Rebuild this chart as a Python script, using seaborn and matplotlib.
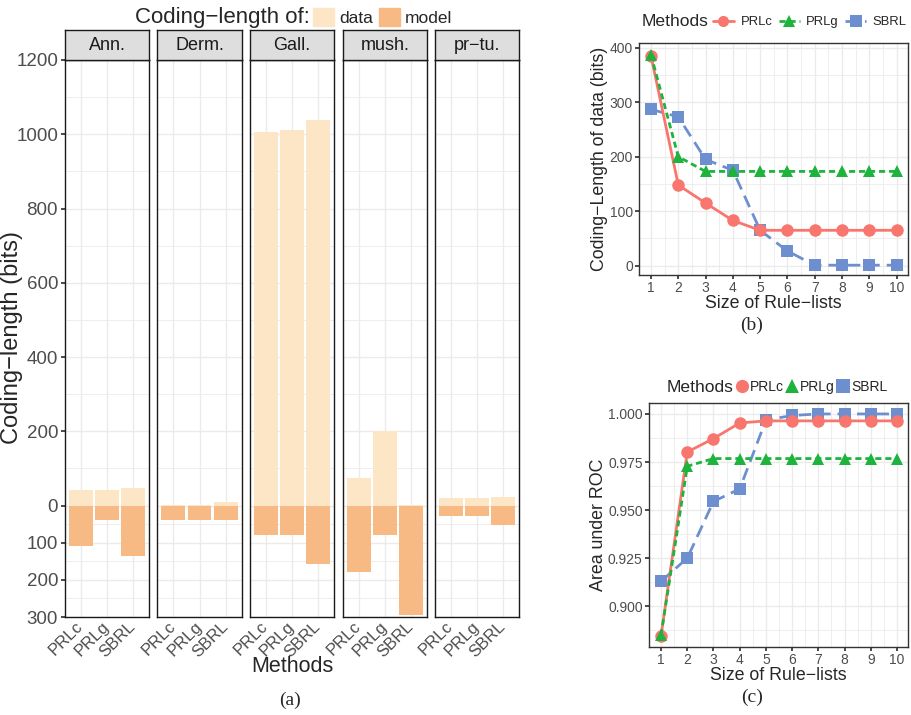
import pandas as pd
import matplotlib.pyplot as plt
import seaborn as sns
from matplotlib.patches import Patch
from matplotlib.lines import Line2D
from matplotlib.ticker import FixedLocator, FuncFormatter

# Data for panel (a): coding length of data (up) and model (down)
datasets = ['Ann.', 'Derm.', 'Gall.', 'mush.', 'pr−tu.']
methods = ['PRLc', 'PRLg', 'SBRL']
data_len = [[42, 42, 48], [2, 2, 10], [1006, 1012, 1038], [75, 200, 2], [21, 21, 23]]
model_len = [[110, 40, 135], [38, 38, 38], [79, 79, 156], [179, 79, 295], [27, 27, 51]]

# Data for panels (b) and (c)
sizes = [1, 2, 3, 4, 5, 6, 7, 8, 9, 10]
cl_prlc = [385, 148, 115, 83, 65, 65, 65, 65, 65, 65]
cl_prlg = [387, 200, 173, 173, 173, 173, 173, 173, 173, 173]
cl_sbrl = [287, 273, 195, 175, 65, 27, 1, 1, 1, 1]
auc_prlc = [0.8847, 0.9802, 0.9872, 0.9953, 0.9964, 0.9964, 0.9964, 0.9964, 0.9964, 0.9964]
auc_prlg = [0.8850, 0.9728, 0.9768, 0.9768, 0.9768, 0.9768, 0.9768, 0.9768, 0.9768, 0.9768]
auc_sbrl = [0.9130, 0.9250, 0.9545, 0.9610, 0.9968, 0.9992, 1.0000, 1.0000, 1.0000, 1.0000]

col_data = '#FDE6C6'
col_model = '#F8BA84'
palette = {'PRLc': '#F8766D', 'PRLg': '#1DB33C', 'SBRL': '#6E8FCF'}
markers = {'PRLc': 'o', 'PRLg': '^', 'SBRL': 's'}
dashes = {'PRLc': '', 'PRLg': (2.2, 1.4), 'SBRL': (4.5, 2.5)}

sns.set_theme(style='white')
plt.rcParams['font.family'] = ['Liberation Sans', 'DejaVu Sans']
plt.rcParams['axes.unicode_minus'] = True

W, H = 912, 715
fig = plt.figure(figsize=(W / 100, H / 100), dpi=100)


def box(x0, y0, x1, y1):
    return [x0 / W, 1 - y1 / H, (x1 - x0) / W, (y1 - y0) / H]


TICK = '#4D4D4D'
GRID = '#EBEBEB'


def style_grid(ax):
    ax.set_axisbelow(True)
    ax.grid(True, which='major', color=GRID, lw=1.0)
    ax.grid(True, which='minor', color=GRID, lw=0.6)
    for s in ax.spines.values():
        s.set_color('#333333')
        s.set_linewidth(1.0)


# ---------------- panel (a) ----------------
rows = []
for d, dl, ml in zip(datasets, data_len, model_len):
    for m, a, b in zip(methods, dl, ml):
        rows.append({'Dataset': d, 'Method': m, 'data': a, 'model': -b})
df = pd.DataFrame(rows)

facet_x = [(65, 149), (157, 242), (250, 334), (343, 427), (435, 519)]
yt = [-300, -200, -100, 0, 200, 400, 600, 800, 1000, 1200]
ym = [-250, -150, -50, 100, 300, 500, 700, 900, 1100]
for i, (d, (x0, x1)) in enumerate(zip(datasets, facet_x)):
    ax = fig.add_axes(box(x0, 60, x1, 617))
    sub = df[df['Dataset'] == d]
    sns.barplot(data=sub, x='Method', y='data', order=methods, color=col_data,
                saturation=1, width=0.9, linewidth=0, ax=ax)
    sns.barplot(data=sub, x='Method', y='model', order=methods, color=col_model,
                saturation=1, width=0.9, linewidth=0, ax=ax)
    ax.set_xlim(-0.6, 2.6)
    ax.set_ylim(-300, 1200)
    ax.yaxis.set_major_locator(FixedLocator(yt))
    ax.yaxis.set_minor_locator(FixedLocator(ym))
    style_grid(ax)
    ax.spines[:].set_color('#1a1a1a')
    ax.grid(False, axis='x', which='minor')
    ax.set_xlabel('')
    ax.set_ylabel('')
    ax.tick_params(axis='x', which='major', length=3, color='#333333', labelsize=12,
                   labelcolor=TICK, pad=2)
    for lab in ax.get_xticklabels():
        lab.set_rotation(45)
        lab.set_ha('right')
        lab.set_va('center')
        lab.set_rotation_mode('anchor')
    if i == 0:
        ax.yaxis.set_major_formatter(FuncFormatter(lambda v, p: f'{abs(int(v))}'))
        ax.tick_params(axis='y', which='major', left=True, length=3, color='#333333',
                       labelsize=13.5, labelcolor=TICK, pad=2)
        ax.tick_params(axis='y', which='minor', left=False)
    else:
        ax.tick_params(axis='y', which='both', left=False, labelleft=False)
    # strip
    sax = fig.add_axes(box(x0, 30, x1, 60))
    sax.set_facecolor('#DEDEDE')
    sax.set_xticks([])
    sax.set_yticks([])
    for s in sax.spines.values():
        s.set_color('#1a1a1a')
        s.set_linewidth(1.0)
    sax.text(0.5, 0.47, d, ha='center', va='center', fontsize=13, color='#1a1a1a',
             transform=sax.transAxes)

fig.text(12 / W, 1 - 338 / H, 'Coding−length (bits)', rotation=90, ha='center',
         va='center', fontsize=17)
fig.text(292 / W, 1 - 666 / H, 'Methods', ha='center', va='center', fontsize=15.5)
fig.text(290 / W, 1 - 700 / H, '(a)', ha='center', va='center', fontsize=14,
         family='Liberation Serif')
fig.text(310 / W, 1 - 17 / H, 'Coding−length of:', ha='right', va='center', fontsize=16)
fig.legend(handles=[Patch(color=col_data, label='data'), Patch(color=col_model, label='model')],
           loc='center left', bbox_to_anchor=(313 / W, 1 - 17 / H), ncol=2, frameon=False,
           fontsize=12.5, handlelength=1.2, handleheight=1.25, handletextpad=0.3,
           columnspacing=0.35, borderaxespad=0, borderpad=0)

# ---------------- panels (b) and (c) ----------------
lines_b = pd.DataFrame({'size': sizes * 3, 'method': sum([[m] * 10 for m in methods], []),
                        'value': cl_prlc + cl_prlg + cl_sbrl})
lines_c = pd.DataFrame({'size': sizes * 3, 'method': sum([[m] * 10 for m in methods], []),
                        'value': auc_prlc + auc_prlg + auc_sbrl})


def line_panel(ax, data, xlim, ylim, yt, ymin, fmt, ylabel):
    sns.lineplot(data=data, x='size', y='value', hue='method', style='method',
                 hue_order=['SBRL', 'PRLc', 'PRLg'], palette=palette, markers=markers,
                 dashes=dashes, markersize=9, markeredgewidth=0, linewidth=2,
                 legend=False, ax=ax)
    ax.set_xlim(*xlim)
    ax.set_ylim(*ylim)
    ax.xaxis.set_major_locator(FixedLocator(sizes))
    ax.xaxis.set_minor_locator(FixedLocator([s + 0.5 for s in sizes[:-1]]))
    ax.yaxis.set_major_locator(FixedLocator(yt))
    ax.yaxis.set_minor_locator(FixedLocator(ymin))
    ax.yaxis.set_major_formatter(FuncFormatter(fmt))
    style_grid(ax)
    ax.tick_params(axis='both', which='major', bottom=True, left=True, length=3,
                   color='#333333', labelsize=10, labelcolor=TICK, pad=1.5)
    ax.tick_params(axis='both', which='minor', bottom=False, left=False)
    ax.set_xlabel('Size of Rule−lists', fontsize=12.8, labelpad=0)
    ax.set_ylabel(ylabel, fontsize=12.8, labelpad=1)


axb = fig.add_axes(box(639, 43, 908, 275))
line_panel(axb, lines_b, (0.56, 10.42), (-17, 408.6), [0, 100, 200, 300, 400],
           [50, 150, 250, 350], lambda v, p: f'{int(v)}', 'Coding−Length of data (bits)')

axc = fig.add_axes(box(649, 403, 908, 647))
line_panel(axc, lines_c, (0.54, 10.42), (0.8788, 1.0057),
           [0.900, 0.925, 0.950, 0.975, 1.000], [0.8875, 0.9125, 0.9375, 0.9625, 0.9875],
           lambda v, p: f'{v:.3f}', 'Area under ROC')

# legends for (b) and (c)
fig.text(675 / W, 1 - 22 / H, 'Methods', ha='center', va='center', fontsize=12.6)
hb = []
for m in methods:
    h = Line2D([], [], color=palette[m], marker=markers[m], markersize=8, markeredgewidth=0,
               lw=2, label=m)
    if dashes[m]:
        h.set_dashes(dashes[m])
    hb.append(h)
fig.legend(handles=hb, loc='center left', bbox_to_anchor=(713 / W, 1 - 22 / H), ncol=3,
           frameon=False, fontsize=9.4, handlelength=1.6, handletextpad=0.5,
           columnspacing=0.5, borderaxespad=0, borderpad=0)

fig.text(700 / W, 1 - 387 / H, 'Methods', ha='center', va='center', fontsize=12.6)
hc = [Line2D([], [], color=palette[m], marker=markers[m], markersize=9.5, markeredgewidth=0,
             lw=0, label=m) for m in methods]
fig.legend(handles=hc, loc='center left', bbox_to_anchor=(735 / W, 1 - 387 / H), ncol=3,
           frameon=False, fontsize=10, handlelength=1.0, handletextpad=0.1,
           columnspacing=0.05, borderaxespad=0, borderpad=0)

fig.text(752 / W, 1 - 325 / H, '(b)', ha='center', va='center', fontsize=14,
         family='Liberation Serif')
fig.text(752 / W, 1 - 697 / H, '(c)', ha='center', va='center', fontsize=14,
         family='Liberation Serif')

fig.savefig('out.png', dpi=100)
